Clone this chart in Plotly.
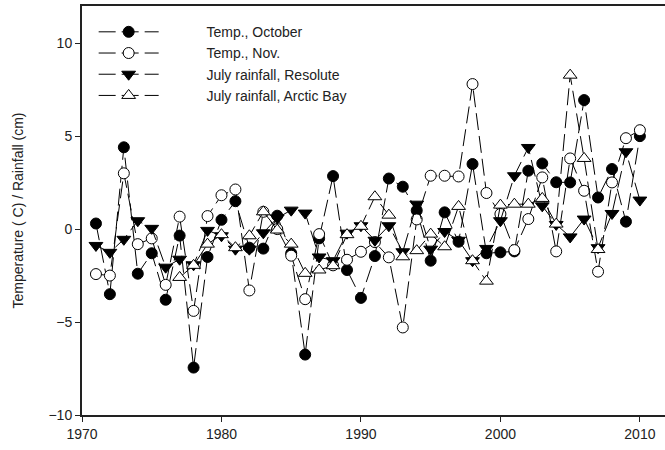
import plotly.graph_objects as go

years = list(range(1971, 2011))

temp_oct = [0.3, -3.5, 4.4, -2.4, -1.3, -3.8, -0.35, -7.45, -1.5, 0.5,
            1.5, -1.0, -1.05, 0.72, -1.3, -6.75, -0.5, 2.85, -2.2, -3.7,
            -1.45, 2.72, 2.28, 1.0, -1.7, 0.9, -0.68, 3.5, -1.3, -1.25,
            -1.2, 3.14, 3.53, 2.52, 2.51, 6.94, 1.7, 3.23, 0.4, 5.0]

temp_nov = [-2.42, -2.5, 3.0, -0.81, -0.5, -3.0, 0.67, -4.4, 0.7, 1.82,
            2.13, -3.3, 0.93, 0.0, -1.43, -3.77, -0.27, -1.95, -1.65, -1.22,
            -0.7, -1.52, -5.29, 0.52, 2.87, 2.87, 2.83, 7.8, 1.94, 0.81,
            -1.13, 0.54, 2.78, -1.2, 3.8, 2.06, -2.29, 2.51, 4.89, 5.32]

rain_resolute = [-0.88, -1.25, -0.55, 0.45, 0.04, -2.05, -1.62, -1.92, -0.07, -0.36,
                 -1.08, -1.08, -0.2, 0.6, 1.02, 0.86, -1.5, -1.7, -0.22, 0.18,
                 -0.6, 0.18, -1.22, 1.34, -1.08, -0.13, -0.6, -1.7, -1.04, 0.45,
                 2.87, 4.39, 1.25, 0.25, -0.42, 0.54, -1.0, 0.84, 4.16, 1.56]

years_ab = list(range(1977, 2008))
rain_arctic_bay = [-2.6, -1.95, -0.81, -0.3, -1.0, -0.36, 0.93, -0.05, -0.81, -2.38,
                   -2.2, -1.97, -0.3, 0.15, 1.74, 0.75, -1.49, -1.16, -0.27, -0.95,
                   1.22, -1.7, -2.8, 1.29, 1.34, 1.34, 1.65, 0.27, 8.28, 3.8, -1.1]

names = ["Temp., October", "Temp., Nov.", "July rainfall, Resolute", "July rainfall, Arctic Bay"]

FONT = "Arial, Liberation Sans, sans-serif"
DASH = "17px,6px"
pad = "\u00a0" * 11

fig = go.Figure()
series = [
    (years, temp_oct, names[0], "circle", "black", 11),
    (years, temp_nov, names[1], "circle", "white", 11),
    (years, rain_resolute, names[2], "triangle-down", "black", 12),
    (years_ab, rain_arctic_bay, names[3], "triangle-up", "white", 12),
]
for xs, ys, nm, sym, fc, sz in series:
    fig.add_trace(go.Scatter(
        x=xs, y=ys, name=pad + nm, mode="lines+markers",
        line=dict(color="black", width=1, dash=DASH),
        marker=dict(symbol=sym, size=sz, color=fc, line=dict(color="black", width=1)),
    ))

fig.update_layout(
    width=665, height=450,
    margin=dict(l=82, r=0, t=6, b=35),
    paper_bgcolor="white", plot_bgcolor="white",
    font=dict(family=FONT, size=14, color="#222"),
    showlegend=True,
    legend=dict(x=0.02, y=0.975, xanchor="left", yanchor="top",
                bgcolor="rgba(0,0,0,0)", font=dict(size=14, color="#222"),
                tracegroupgap=0, itemwidth=60),
    xaxis=dict(range=[1970, 2011.8], tickmode="array",
               tickvals=[1970, 1980, 1990, 2000, 2010],
               showgrid=False, zeroline=False, showline=True, linecolor="#222",
               linewidth=2, mirror=True, ticks="outside", ticklen=5, tickcolor="#222",
               tickwidth=1, tickfont=dict(size=14)),
    yaxis=dict(range=[-10, 12], tickmode="array", tickvals=[-10, -5, 0, 5, 10],
               showgrid=False, zeroline=False, showline=True, linecolor="#222",
               linewidth=2, ticks="outside", ticklen=5, tickcolor="#222", tickwidth=1,
               tickfont=dict(size=14),
               title=dict(text="Temperature ( C) / Rainfall (cm)", font=dict(size=14),
                          standoff=22)),
)

fig.write_html("out.html")
